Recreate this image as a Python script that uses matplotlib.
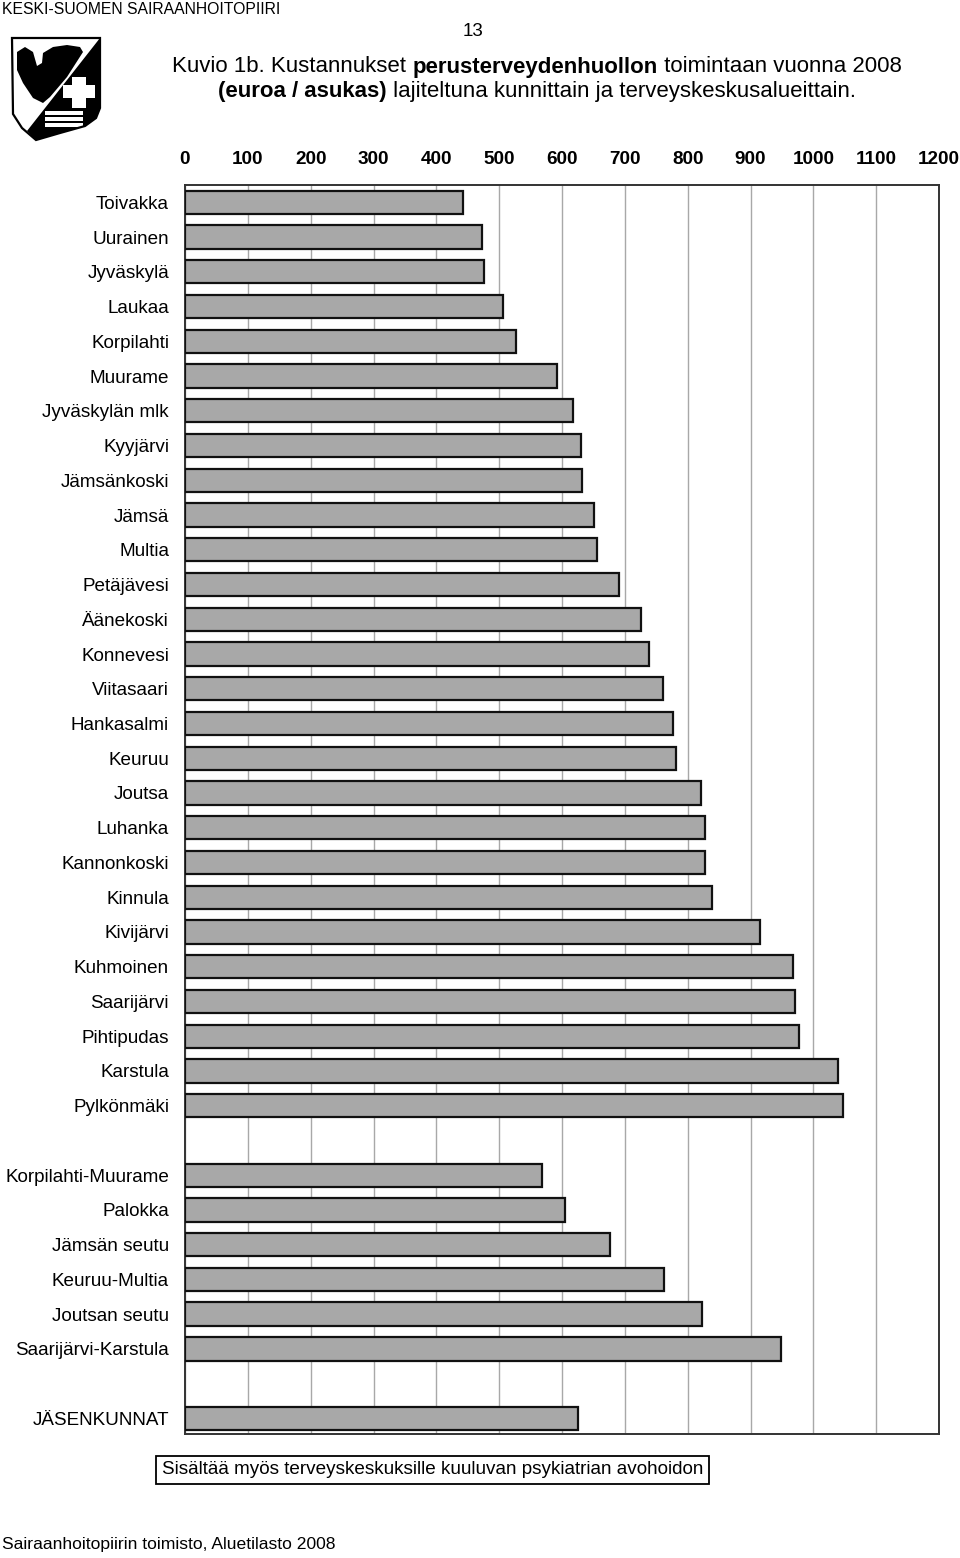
import numpy as np
import matplotlib.pyplot as plt
from matplotlib.patches import Polygon, Rectangle

plt.rcParams['font.family'] = ['Liberation Sans', 'DejaVu Sans']

# municipalities, sorted by cost (euro / inhabitant)
kunnat = ['Toivakka', 'Uurainen', 'Jyväskylä', 'Laukaa', 'Korpilahti', 'Muurame',
          'Jyväskylän mlk', 'Kyyjärvi', 'Jämsänkoski', 'Jämsä', 'Multia', 'Petäjävesi',
          'Äänekoski', 'Konnevesi', 'Viitasaari', 'Hankasalmi', 'Keuruu', 'Joutsa',
          'Luhanka', 'Kannonkoski', 'Kinnula', 'Kivijärvi', 'Kuhmoinen', 'Saarijärvi',
          'Pihtipudas', 'Karstula', 'Pylkönmäki']
kunnat_arvot = [443, 472, 476, 506, 526, 592, 618, 631, 632, 651, 656, 690,
                725, 738, 760, 777, 782, 822, 827, 827, 838, 915, 967, 971,
                977, 1040, 1047]

# health centre regions
alueet = ['Korpilahti-Muurame', 'Palokka', 'Jämsän seutu', 'Keuruu-Multia',
          'Joutsan seutu', 'Saarijärvi-Karstula']
alueet_arvot = [568, 604, 677, 763, 823, 949]

# all member municipalities
yht = ['JÄSENKUNNAT']
yht_arvot = [626]

xticks = list(range(0, 1201, 100))

labels = kunnat + alueet + yht
values = kunnat_arvot + alueet_arvot + yht_arvot
ypos = list(range(len(kunnat))) + \
    [len(kunnat) + 1 + i for i in range(len(alueet))] + \
    [len(kunnat) + len(alueet) + 2]

fig = plt.figure(figsize=(9.6, 15.58), dpi=100)
ax = fig.add_axes([185 / 960, 1 - 1434 / 1558, 754 / 960, (1434 - 185) / 1558])

ax.barh(ypos, values, height=0.67, color='#a8a8a8', edgecolor='#111111', linewidth=1.6, zorder=3)
ax.set_xlim(0, 1200)
ax.set_ylim(len(kunnat) + len(alueet) + 2.45, -0.5)
ax.set_xticks(xticks)
ax.set_xticklabels([str(t) for t in xticks], fontsize=13.6, fontweight='bold')
ax.xaxis.tick_top()
ax.tick_params(axis='x', length=0, pad=12.5)
ax.set_yticks(ypos)
ax.set_yticklabels(labels, fontsize=13.6)
ax.tick_params(axis='y', length=0, pad=11.5)
ax.grid(axis='x', color='#a8a8a8', linewidth=1.0, zorder=0)
for s in ax.spines.values():
    s.set_color('#333333')
    s.set_linewidth(1.4)

# header texts
fig.text(2 / 960, 1 - 9 / 1558, 'KESKI-SUOMEN SAIRAANHOITOPIIRI', fontsize=11.3,
         va='center', ha='left')
fig.text(473 / 960, 1 - 32 / 1558, '13', fontsize=13.5, va='center', ha='center')


def mixed_line(parts, xc, y, size):
    # draw text parts with mixed weight, centered at xc (pixels)
    fig.canvas.draw()
    r = fig.canvas.get_renderer()
    objs = []
    for txt, w in parts:
        t = fig.text(0, 1 - y / 1558, txt, fontsize=size, fontweight=w, va='center', ha='left')
        objs.append(t)
    widths = [t.get_window_extent(renderer=r).width for t in objs]
    x = xc - sum(widths) / 2
    for t, w in zip(objs, widths):
        t.set_x(x / 960)
        x += w


mixed_line([('Kuvio 1b. Kustannukset ', 'normal'), ('perusterveydenhuollon', 'bold'),
            (' toimintaan vuonna 2008', 'normal')], 537, 67, 16)
mixed_line([('(euroa / asukas)', 'bold'),
            (' lajiteltuna kunnittain ja terveyskeskusalueittain.', 'normal')], 537, 91, 16)

# simple shield logo (pixel coordinates)
def fpoly(pts, fc, ec='none', lw=0.0):
    fig.patches.append(Polygon([(a / 960, 1 - b / 1558) for a, b in pts], closed=True,
                               facecolor=fc, edgecolor=ec, linewidth=lw,
                               transform=fig.transFigure))


def frect(x0, y0, x1, y1, fc='white'):
    fig.patches.append(Rectangle((x0 / 960, 1 - y1 / 1558), (x1 - x0) / 960, (y1 - y0) / 1558,
                                 facecolor=fc, edgecolor='none', transform=fig.transFigure))


shield = [(12, 38), (100, 38), (100, 108), (96, 118), (85, 126), (60, 133), (36, 140),
          (22, 128), (13, 114)]
fpoly(shield, 'white')
fpoly([(100, 38), (100, 108), (96, 118), (85, 126), (60, 133), (36, 140), (27, 131)], 'black')
bird = [(17, 52), (25, 47), (33, 52), (37, 66), (42, 63), (43, 53), (53, 47), (67, 45),
        (80, 47), (83, 52), (67, 77), (50, 97), (43, 103), (33, 98), (23, 83), (17, 70)]
fpoly(bird, 'black')
frect(63, 85, 95, 98)
frect(72, 77, 86, 108)
for wy in (111, 117, 123):
    frect(45, wy, 83, wy + 3.5)
fpoly(shield, 'none', 'black', 1.6)

# note box
fig.text(432.5 / 960, 1 - 1470 / 1558, 'Sisältää myös terveyskeskuksille kuuluvan psykiatrian avohoidon',
         fontsize=13.6, ha='center', va='center',
         bbox=dict(boxstyle='square,pad=0.3', facecolor='white', edgecolor='black', linewidth=1.3))

fig.text(2 / 960, 1 - 1544 / 1558, 'Sairaanhoitopiirin toimisto, Aluetilasto 2008',
         fontsize=12.6, ha='left', va='center')

plt.savefig('out.png', dpi=100)
